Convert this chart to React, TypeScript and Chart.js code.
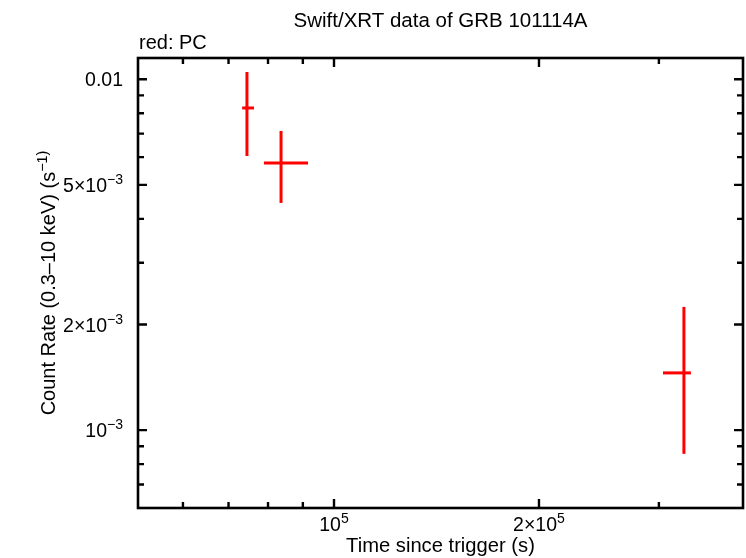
import React, { useEffect, useRef } from 'react';
import { Chart, registerables } from 'chart.js';

Chart.register(...registerables);

const FONT = '"Liberation Sans", Arial, Helvetica, sans-serif';

const titleText = 'Swift/XRT data of GRB 101114A';
const subtitleText = 'red: PC';
const xLabel = 'Time since trigger (s)';
const yLabel = 'Count Rate (0.3–10 keV) (s^−1)';

// Data (PC mode)
const times = [74500, 83600, 326500];
const timeLo = [73300, 78900, 304200];
const timeHi = [76300, 91600, 334300];
const rates = [8.284e-3, 5.776e-3, 1.456e-3];
const rateLo = [6.045e-3, 4.442e-3, 8.56e-4];
const rateHi = [1.049e-2, 7.124e-3, 2.245e-3];

// Axes
const xRange = [51540, 398700];
const yRange = [6.007e-4, 0.011499];
const xMajorTicks = [1e5, 2e5];
const xMajorLabels = ['10^5', '2×10^5'];
const xMinorTicks = [6e4, 7e4, 8e4, 9e4, 3e5];
const yMajorTicks = [0.01, 0.005, 0.002, 0.001];
const yMajorLabels = ['0.01', '5×10^−3', '2×10^−3', '10^−3'];
const yMinorTicks = [0.009, 0.008, 0.007, 0.006, 0.004, 0.003, 0.0009, 0.0008, 0.0007];

const RED = '#ff0000';

function drawRich(ctx: CanvasRenderingContext2D, text: string, x: number, y: number, align: string, size: number) {
  const [base, sup] = text.split('^');
  const ss = size * 0.72;
  ctx.font = `${size}px ${FONT}`;
  const wb = ctx.measureText(base).width;
  ctx.font = `${ss}px ${FONT}`;
  const ws = sup ? ctx.measureText(sup).width : 0;
  const total = wb + ws;
  const x0 = align === 'right' ? x - total : align === 'center' ? x - total / 2 : x;
  ctx.textAlign = 'left';
  ctx.textBaseline = 'alphabetic';
  ctx.font = `${size}px ${FONT}`;
  ctx.fillText(base, x0, y);
  if (sup) {
    ctx.font = `${ss}px ${FONT}`;
    ctx.fillText(sup, x0 + wb, y - size * 0.4);
  }
}

const decorPlugin = {
  id: 'decor',
  afterDraw(chart: any) {
    const ctx: CanvasRenderingContext2D = chart.ctx;
    const { left, right, top, bottom } = chart.chartArea;
    const xs = chart.scales.x;
    const ys = chart.scales.y;
    ctx.save();
    ctx.fillStyle = '#000';
    ctx.strokeStyle = '#000';
    ctx.lineWidth = 2.6;
    ctx.strokeRect(left, top, right - left, bottom - top);

    const major = 9;
    const minor = 6;
    ctx.lineWidth = 2.4;
    ctx.beginPath();
    const yTick = (v: number, len: number) => {
      const p = ys.getPixelForValue(v);
      if (p < top || p > bottom) return;
      ctx.moveTo(left, p); ctx.lineTo(left + len, p);
      ctx.moveTo(right, p); ctx.lineTo(right - len, p);
    };
    const xTick = (v: number, len: number) => {
      const p = xs.getPixelForValue(v);
      if (p < left || p > right) return;
      ctx.moveTo(p, bottom); ctx.lineTo(p, bottom - len);
      ctx.moveTo(p, top); ctx.lineTo(p, top + len);
    };
    yMajorTicks.forEach(v => yTick(v, major));
    yMinorTicks.forEach(v => yTick(v, minor));
    xMajorTicks.forEach(v => xTick(v, major));
    xMinorTicks.forEach(v => xTick(v, minor));
    ctx.stroke();

    // tick labels
    yMajorTicks.forEach((v, i) => {
      const p = ys.getPixelForValue(v);
      drawRich(ctx, yMajorLabels[i], left - 15, p + 7, 'right', 19.5);
    });
    xMajorTicks.forEach((v, i) => {
      const p = xs.getPixelForValue(v);
      drawRich(ctx, xMajorLabels[i], p, bottom + 23, 'center', 19.5);
    });

    // titles
    drawRich(ctx, titleText, (left + right) / 2, 27, 'center', 20.5);
    drawRich(ctx, subtitleText, left + 1, 49, 'left', 20);
    drawRich(ctx, xLabel, (left + right) / 2, 552, 'center', 20.2);

    ctx.save();
    ctx.translate(55, (top + bottom) / 2);
    ctx.rotate(-Math.PI / 2);
    drawRich(ctx, yLabel, 0, 0, 'center', 20);
    ctx.restore();

    ctx.restore();
  },
};

export default function App() {
  const ref = useRef<HTMLCanvasElement | null>(null);

  useEffect(() => {
    const prevMargin = document.body.style.margin;
    document.body.style.margin = '0';
    if (!ref.current) return;
    const datasets: any[] = [];
    times.forEach((t, i) => {
      datasets.push({
        data: [{ x: t, y: rateLo[i] }, { x: t, y: rateHi[i] }],
        showLine: true,
        borderColor: RED,
        backgroundColor: RED,
        borderWidth: 3,
        pointRadius: 0,
        borderCapStyle: 'butt',
      });
      datasets.push({
        data: [{ x: timeLo[i], y: rates[i] }, { x: timeHi[i], y: rates[i] }],
        showLine: true,
        borderColor: RED,
        backgroundColor: RED,
        borderWidth: 3,
        pointRadius: 0,
        borderCapStyle: 'butt',
      });
    });

    const chart = new Chart(ref.current, {
      type: 'scatter',
      data: { datasets },
      options: {
        responsive: false,
        animation: false,
        devicePixelRatio: 1,
        layout: { padding: { top: 58, right: 3, left: 0, bottom: 0 } },
        plugins: {
          legend: { display: false },
          tooltip: { enabled: false },
          title: { display: false },
        },
        scales: {
          x: {
            type: 'logarithmic',
            min: xRange[0],
            max: xRange[1],
            ticks: { display: false },
            grid: { display: false },
            border: { display: false },
            afterFit: (s: any) => { s.height = 50; },
          },
          y: {
            type: 'logarithmic',
            min: yRange[0],
            max: yRange[1],
            ticks: { display: false },
            grid: { display: false },
            border: { display: false },
            afterFit: (s: any) => { s.width = 138; },
          },
        },
      } as any,
      plugins: [decorPlugin],
    });
    return () => {
      chart.destroy();
      document.body.style.margin = prevMargin;
    };
  }, []);

  return (
    <div style={{ position: 'fixed', left: 0, top: 0, width: 746, height: 558, background: '#fff' }}>
      <canvas ref={ref} width={746} height={558} style={{ display: 'block', width: 746, height: 558 }} />
    </div>
  );
}
